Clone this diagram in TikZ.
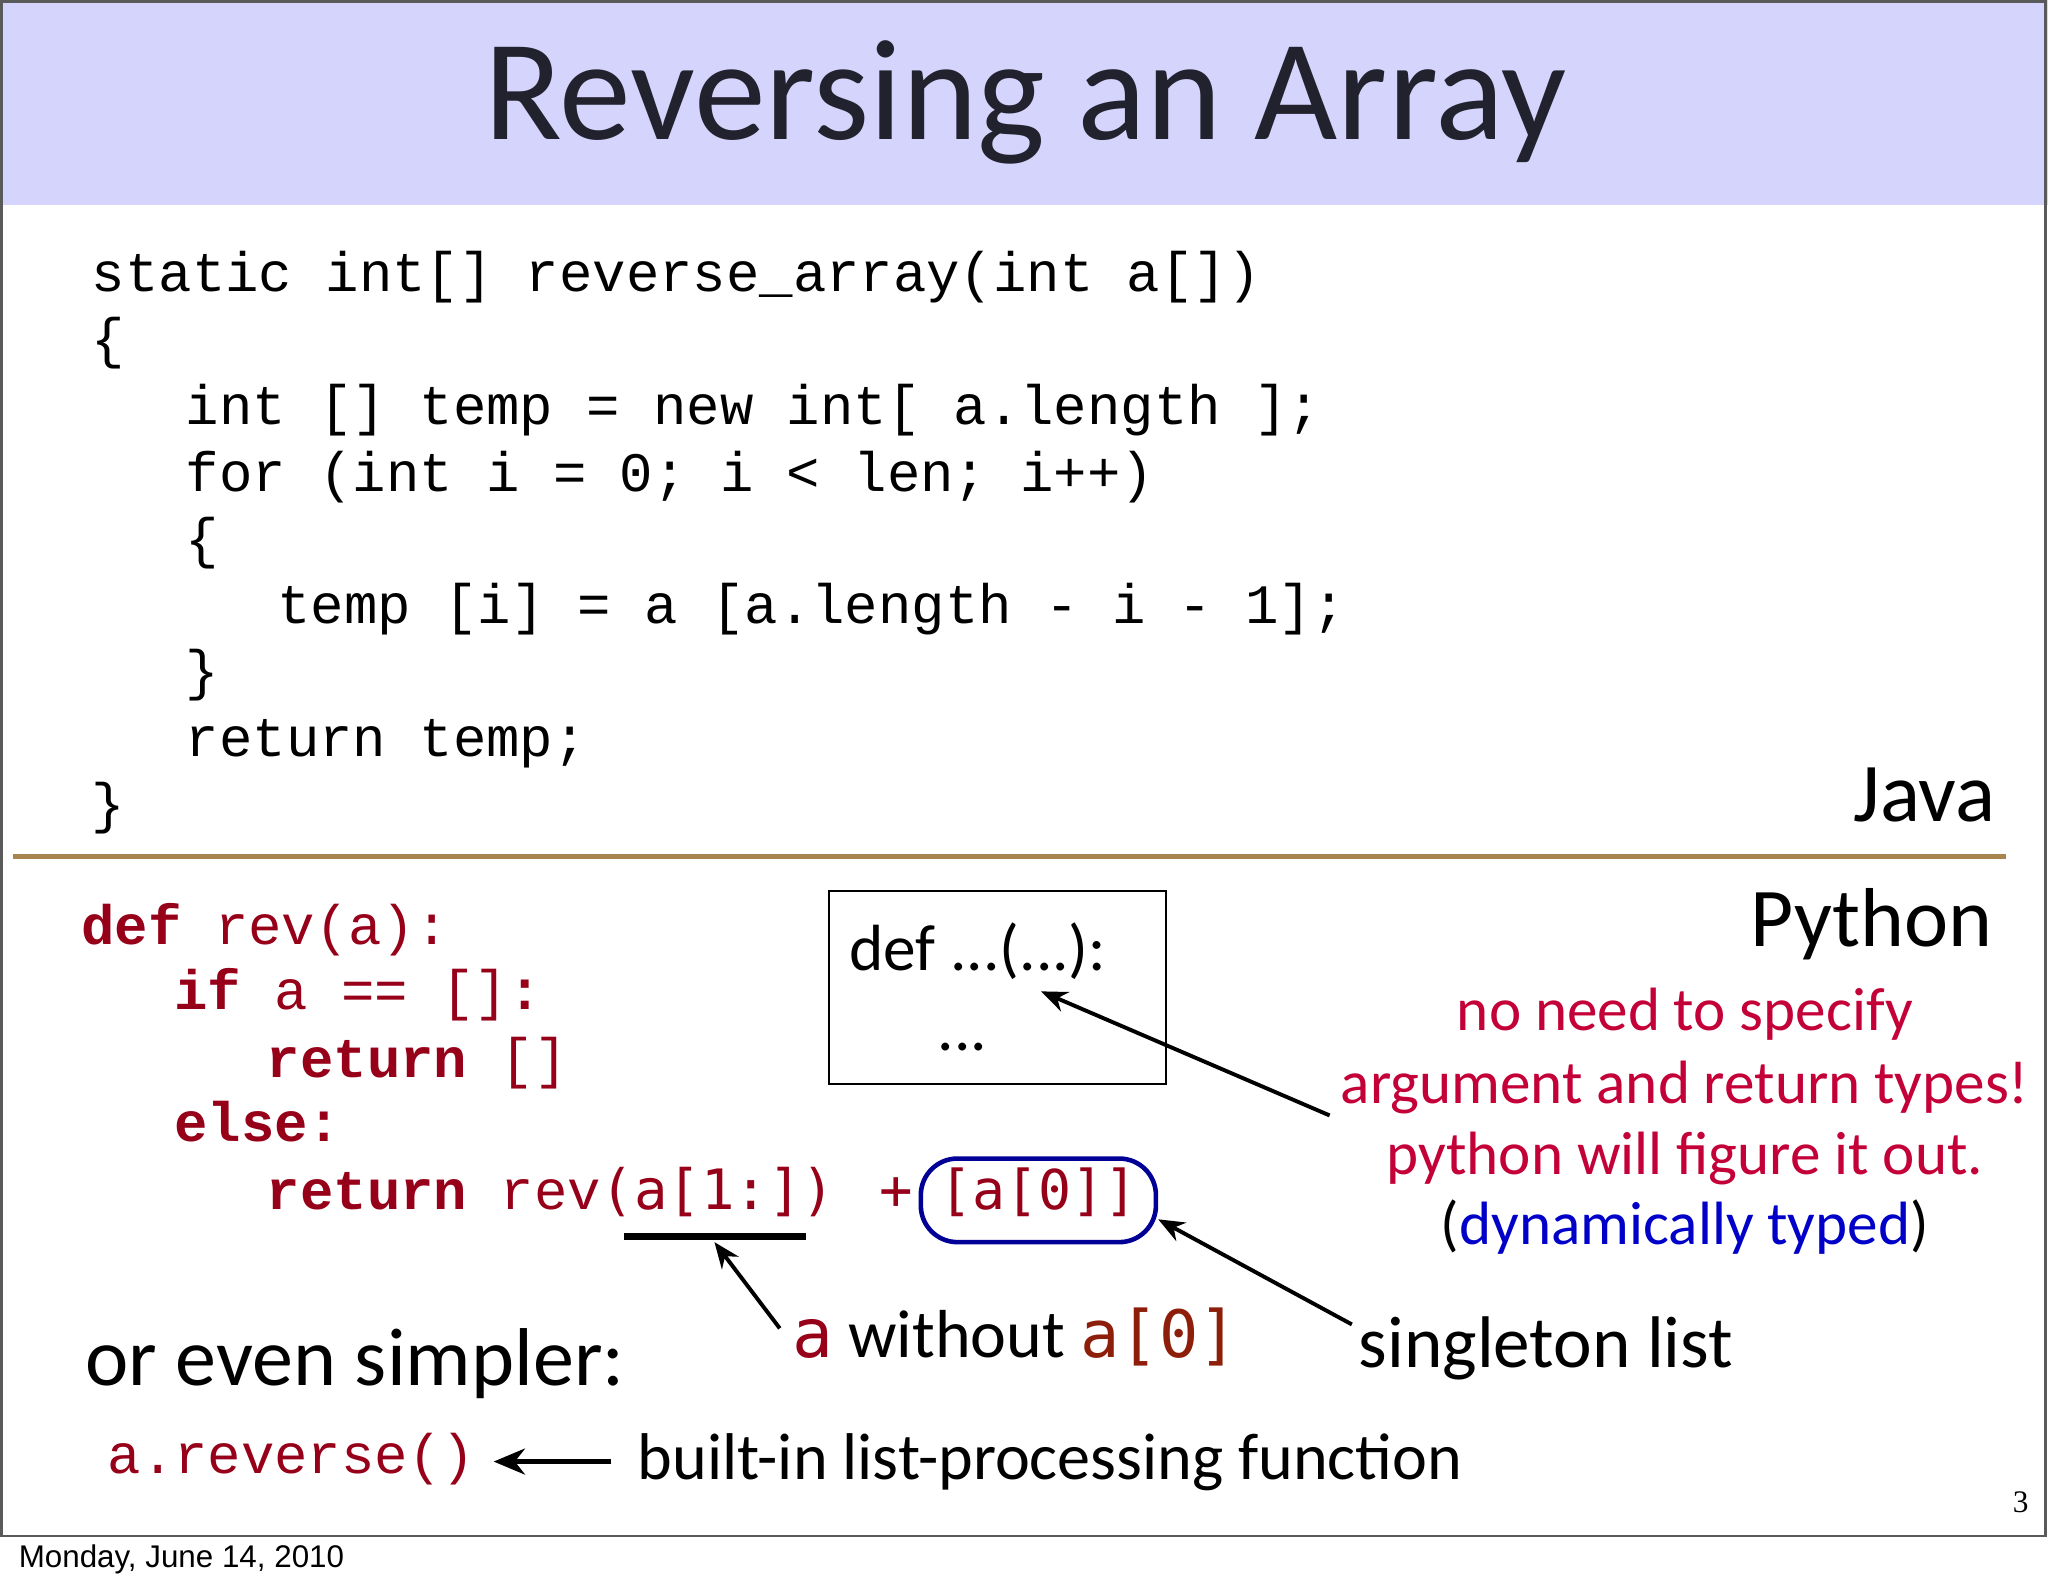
\documentclass[tikz,border=0pt]{standalone}
\usepackage{fontspec}
\setmainfont{Carlito}
\setmonofont{Liberation Mono}
\newfontfamily\sansmono{DejaVu Sans Mono}
\newfontfamily\datefont{Liberation Sans}
\newfontfamily\numfont{Liberation Serif}
\usepackage{tikz}
\usetikzlibrary{arrows.meta}

\definecolor{titleband}{RGB}{212,212,252}
\definecolor{titleink}{RGB}{34,34,46}
\definecolor{rulebrown}{RGB}{168,133,79}
\definecolor{framegray}{RGB}{90,90,90}
\definecolor{pyred}{RGB}{150,0,25}
\definecolor{notered}{RGB}{195,0,55}
\definecolor{noteblue}{RGB}{0,0,200}
\definecolor{boxblue}{RGB}{0,0,150}
\definecolor{idxbrown}{RGB}{140,30,10}

\tikzset{
  txt/.style={anchor=base west, inner sep=0pt},
  code/.style={txt, font=\fontsize{21.3}{25}\ttfamily},
  pycode/.style={code, text=pyred},
  note/.style={anchor=base, inner sep=0pt, text=notered, font=\fontsize{23.4}{28}\selectfont},
  ptr/.style={-{Stealth[length=10pt,width=8pt]}, line width=1.5pt}
}

\begin{document}
\begin{tikzpicture}[x=0.5pt,y=-0.5pt]
    \useasboundingbox (0,0) rectangle (1568,1215);

    %Shape: title band and slide frame
    \fill [titleband] (0,0) rectangle (1568,157);
    \draw [framegray, line width=1pt] (1,1) rectangle (1566,1176);
    %Shape: rule between the two languages
    \draw [rulebrown, line width=2pt] (10,656) -- (1536,656);

    % Text Node
    \node (title) [anchor=base, inner sep=0pt, text=titleink, font=\fontsize{55}{60}\selectfont] at (785,107) {Reversing an Array};

    % Java code
    \node (j1) [code] at (70,223) {static int[] reverse\_array(int a[])};
    \node (j2) [code] at (70,274) {\{};
    \node (j3) [code] at (142,325) {int [] temp = new int[ a.length ];};
    \node (j4) [code] at (142,376) {for (int i = 0; i < len; i++)};
    \node (j5) [code] at (142,427) {\{};
    \node (j6) [code] at (212,477) {temp [i] = a [a.length - i - 1];};
    \node (j7) [code] at (142,528) {\}};
    \node (j8) [code] at (142,579) {return temp;};
    \node (j9) [code] at (70,630) {\}};
    \node (java) [anchor=base east, inner sep=0pt, font=\fontsize{32}{36}\selectfont] at (1528,629) {Java};

    % Python code
    \node (p1) [pycode] at (62,723) {\textbf{def} rev(a):};
    \node (p2) [pycode] at (133,773) {\textbf{if} a == []\textbf{:}};
    \node (p3) [pycode] at (204,825) {\textbf{return} []};
    \node (p4) [pycode] at (133,874) {\textbf{else:}};
    \node (p5) [pycode] at (204,926) {\textbf{return} rev{\sansmono(a[1:]) +}};
    \node (single) [draw=boxblue, line width=1.75pt, rounded corners=14pt, minimum width=90pt, minimum height=32pt,
        inner sep=0pt, text height=12pt, text depth=5pt, text=pyred, font=\fontsize{21}{25}\sansmono] at (795,919) {[a[0]]};
    \coordinate (ul1) at (478,947);
    \coordinate (ul2) at (617,947);
    \draw [line width=2.7pt] (ul1) -- (ul2);
    \node (python) [anchor=base east, inner sep=0pt, font=\fontsize{32}{36}\selectfont] at (1526,725) {Python};

    %Shape: def box
    \node (defbox) [draw, line width=0.8pt, minimum width=129pt, minimum height=74pt, inner sep=0pt] at (764,756) {};
    \node (defline) [txt, font=\fontsize{25}{29}\selectfont] at (650,743) {def ...(...):};
    \node (defdots) [anchor=base, inner sep=0pt, font=\fontsize{25}{29}\selectfont] at (737,804) {...};

    % notes
    \node (n1) [note] at (1290,789) {no need to specify};
    \node (n2) [note] at (1290,845) {argument and return types!};
    \node (n3) [note] at (1290,899) {python will figure it out.};
    \node (n4) [note, text=black] at (1290,953) {({\color{noteblue}dynamically typed})};

    \node (without) [txt, font=\fontsize{26}{30}\selectfont] at (606,1039) {{\color{pyred}\sansmono a} without {\color{idxbrown}\fontsize{25}{29}\sansmono a[0]}};
    \node (singleton) [txt, font=\fontsize{28}{32}\selectfont] at (1040,1047) {singleton list};
    \node (simpler) [txt, font=\fontsize{31.4}{36}\selectfont] at (65,1061) {or even simpler:};
    \node (rev) [pycode] at (82,1128) {a.reverse()};
    \node (builtin) [txt, font=\fontsize{25.3}{30}\selectfont] at (488,1133) {built-in list-processing function};

    % arrows
    \coordinate (defarg) at (797,759);
    \coordinate (notetail) at (1018,854);
    \coordinate (ulmid) at (547,951);
    \coordinate (wotail) at (597,1017);
    \coordinate (sgtail) at (1035,1014);
    \coordinate (revtail) at (468,1119);
    \coordinate (revtip) at (378,1119);
    \draw [ptr] (notetail) -- (defarg);
    \draw [ptr] (wotail) -- (ulmid);
    \draw [ptr] (sgtail) -- (single.-9);
    \draw [-{Stealth[length=12pt,width=10pt]}, line width=1.6pt] (revtail) -- (revtip);

    % footer
    \node (page) [anchor=base, inner sep=0pt, font=\fontsize{12}{14}\numfont] at (1547,1158) {3};
    \node (date) [txt, font=\fontsize{12}{14}\datefont] at (14,1200) {Monday, June 14, 2010};
\end{tikzpicture}
\end{document}
